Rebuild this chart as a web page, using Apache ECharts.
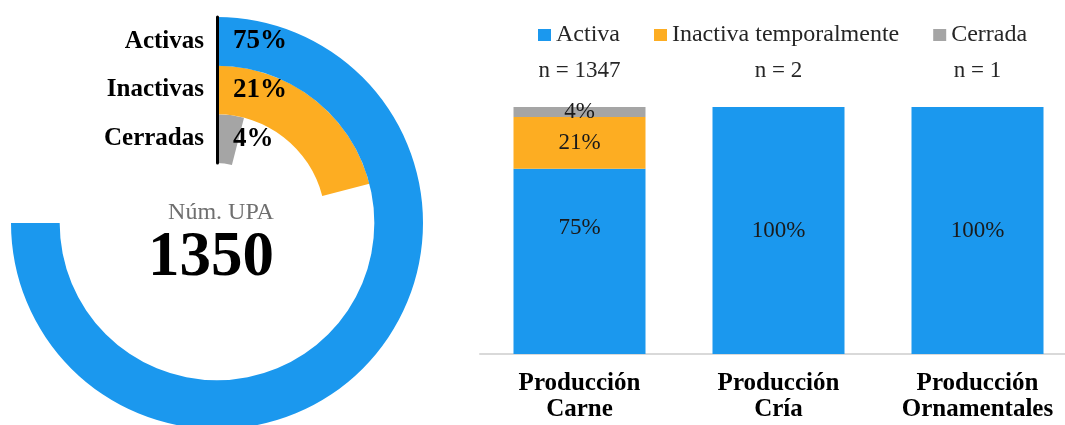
<!DOCTYPE html>
<html>
<head>
<meta charset="utf-8">
<script src="https://cdn.jsdelivr.net/npm/echarts@6/dist/echarts.min.js"></script>
<style>
html,body{margin:0;padding:0;background:#fff;}
#chart{width:1065px;height:425px;}
</style>
</head>
<body>
<div id="chart"></div>
<script>
// ---- data ----
const ringCategories = ['Activas', 'Inactivas', 'Cerradas'];
const ringPercents = [75, 21, 4];
const barCategories = ['Producción\nCarne', 'Producción\nCría', 'Producción\nOrnamentales'];
const nValues = [1347, 2, 1];
const activaValues = [75, 100, 100];
const inactivaValues = [21, 0, 0];
const cerradaValues = [4, 0, 0];
const seriesNames = ['Activa', 'Inactiva temporalmente', 'Cerrada'];
const totalUPA = nValues.reduce((a, b) => a + b, 0);

// ---- styles ----
const COLORS = ['#1B98EE', '#FDAD22', '#A5A5A5'];
const FONT = '"Liberation Serif", "Times New Roman", serif';

const chart = echarts.init(document.getElementById('chart'), null, {renderer: 'canvas'});

const pctLabel = (p) => (p.value ? p.value + '%' : '');

const ringData = ringCategories.map((c, i) => ({
  value: ringPercents[i],
  itemStyle: {color: COLORS[i]}
})).reverse();

const option = {
  backgroundColor: '#fff',
  animation: false,
  textStyle: {fontFamily: FONT},
  title: [
    {
      text: 'Núm. UPA', left: 216, top: 196, textAlign: 'center',
      textStyle: {fontFamily: FONT, fontSize: 24, fontWeight: 'normal', color: '#6f6f6f'}
    },
    {
      text: String(totalUPA), left: 206, top: 222, textAlign: 'center',
      textStyle: {fontFamily: FONT, fontSize: 63, fontWeight: 'bold', color: '#000'}
    }
  ],
  legend: {
    data: seriesNames,
    left: 533, top: 18,
    itemWidth: 13, itemHeight: 12, itemGap: 34,
    icon: 'rect',
    textStyle: {fontFamily: FONT, fontSize: 24, color: '#262626'}
  },
  polar: {center: [217, 223], radius: [60, 206]},
  angleAxis: {
    type: 'value', max: 100, startAngle: 90, clockwise: true,
    show: false
  },
  radiusAxis: {
    type: 'category',
    data: ringCategories.slice().reverse(),
    z: 10,
    axisLine: {show: true, lineStyle: {color: '#000', width: 3}},
    axisTick: {show: false},
    splitLine: {show: false},
    axisLabel: {
      interval: 0, margin: 13, fontFamily: FONT, fontSize: 25, fontWeight: 'bold', color: '#000'
    }
  },
  grid: {left: 480, width: 597, top: 107, bottom: 71, outerBoundsMode: 'none', containLabel: false},
  xAxis: [
    {
      type: 'category', data: barCategories, position: 'bottom',
      axisLine: {lineStyle: {color: '#d9d9d9', width: 2}},
      axisTick: {show: false},
      axisLabel: {
        margin: 17, fontFamily: FONT, fontSize: 25, fontWeight: 'bold',
        color: '#000', lineHeight: 26, interval: 0
      }
    },
    {
      type: 'category', data: barCategories, position: 'top',
      axisLine: {show: false}, axisTick: {show: false},
      axisLabel: {
        margin: 25, fontFamily: FONT, fontSize: 23, color: '#262626', interval: 0,
        formatter: (v, i) => 'n = ' + nValues[i]
      }
    }
  ],
  yAxis: {type: 'value', min: 0, max: 100, show: false, splitLine: {show: false}},
  series: [
    {
      name: 'UPA', type: 'bar', coordinateSystem: 'polar',
      data: ringData, barCategoryGap: '0%',
      label: {
        show: true, position: 'insideStartAngle', distance: 16, rotate: 0,
        formatter: (p) => p.value + '%',
        fontFamily: FONT, fontSize: 27, fontWeight: 'bold', color: '#000'
      }
    },
    {
      name: seriesNames[0], type: 'bar', stack: 't', xAxisIndex: 0,
      barWidth: 132, itemStyle: {color: COLORS[0]},
      data: activaValues.map((v, i) => i === 0 ? {
        value: v,
        label: {position: ['50%', '32%'], align: 'center', verticalAlign: 'middle'}
      } : v),
      label: {show: true, position: 'inside', formatter: pctLabel,
        fontFamily: FONT, fontSize: 23, color: '#1a1a1a'}
    },
    {
      name: seriesNames[1], type: 'bar', stack: 't', xAxisIndex: 0,
      itemStyle: {color: COLORS[1]}, data: inactivaValues,
      label: {show: true, position: 'inside', formatter: pctLabel,
        fontFamily: FONT, fontSize: 23, color: '#1a1a1a'}
    },
    {
      name: seriesNames[2], type: 'bar', stack: 't', xAxisIndex: 0,
      itemStyle: {color: COLORS[2]}, data: cerradaValues,
      label: {show: true, position: 'inside', formatter: pctLabel,
        fontFamily: FONT, fontSize: 23, color: '#1a1a1a'}
    }
  ]
};
chart.setOption(option);
</script>
</body>
</html>
